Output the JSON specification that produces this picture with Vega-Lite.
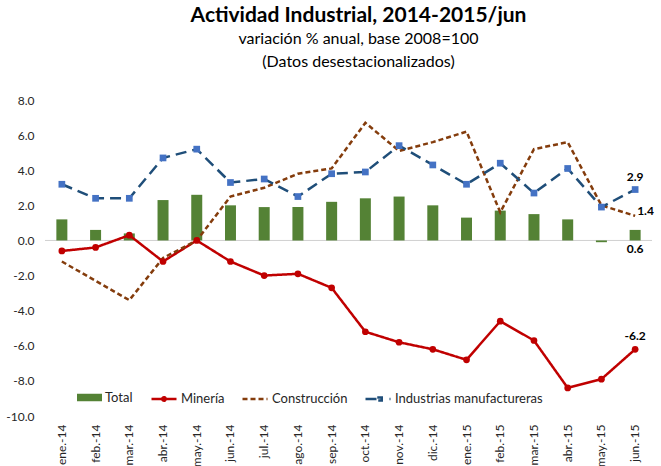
{
  "$schema": "https://vega.github.io/schema/vega-lite/v6.json",
  "autosize": "none",
  "width": 607,
  "height": 316,
  "padding": {"left": 45, "top": 100, "right": 9, "bottom": 50},
  "background": "white",
  "title": {
    "text": "Actividad Industrial, 2014-2015/jun",
    "subtitle": ["variación % anual, base 2008=100", "(Datos desestacionalizados)"],
    "fontSize": 21,
    "fontWeight": "bold",
    "font": "Lato",
    "color": "#000000",
    "subtitleFont": "Lato",
    "subtitleFontSize": 16,
    "subtitleColor": "#000000",
    "subtitleLineHeight": 23,
    "subtitlePadding": 5,
    "anchor": "middle",
    "dx": 10,
    "offset": 24
  },
  "data": {
    "values": [
      {"mes": "ene.-14", "Total": 1.2, "Minería": -0.6, "Construcción": -1.2, "Industrias manufactureras": 3.2},
      {"mes": "feb.-14", "Total": 0.6, "Minería": -0.4, "Construcción": -2.3, "Industrias manufactureras": 2.4},
      {"mes": "mar.-14", "Total": 0.4, "Minería": 0.3, "Construcción": -3.4, "Industrias manufactureras": 2.4},
      {"mes": "abr.-14", "Total": 2.3, "Minería": -1.2, "Construcción": -1.0, "Industrias manufactureras": 4.7},
      {"mes": "may.-14", "Total": 2.6, "Minería": 0.0, "Construcción": 0.0, "Industrias manufactureras": 5.2},
      {"mes": "jun.-14", "Total": 2.0, "Minería": -1.2, "Construcción": 2.5, "Industrias manufactureras": 3.3},
      {"mes": "jul.-14", "Total": 1.9, "Minería": -2.0, "Construcción": 3.0, "Industrias manufactureras": 3.5},
      {"mes": "ago.-14", "Total": 1.9, "Minería": -1.9, "Construcción": 3.8, "Industrias manufactureras": 2.5},
      {"mes": "sep.-14", "Total": 2.2, "Minería": -2.7, "Construcción": 4.1, "Industrias manufactureras": 3.8},
      {"mes": "oct.-14", "Total": 2.4, "Minería": -5.2, "Construcción": 6.7, "Industrias manufactureras": 3.9},
      {"mes": "nov.-14", "Total": 2.5, "Minería": -5.8, "Construcción": 5.1, "Industrias manufactureras": 5.4},
      {"mes": "dic.-14", "Total": 2.0, "Minería": -6.2, "Construcción": 5.6, "Industrias manufactureras": 4.3},
      {"mes": "ene.-15", "Total": 1.3, "Minería": -6.8, "Construcción": 6.2, "Industrias manufactureras": 3.2},
      {"mes": "feb.-15", "Total": 1.7, "Minería": -4.6, "Construcción": 1.6, "Industrias manufactureras": 4.4},
      {"mes": "mar.-15", "Total": 1.5, "Minería": -5.7, "Construcción": 5.2, "Industrias manufactureras": 2.7},
      {"mes": "abr.-15", "Total": 1.2, "Minería": -8.4, "Construcción": 5.6, "Industrias manufactureras": 4.1},
      {"mes": "may.-15", "Total": -0.1, "Minería": -7.9, "Construcción": 2.0, "Industrias manufactureras": 1.9},
      {"mes": "jun.-15", "Total": 0.6, "Minería": -6.2, "Construcción": 1.4, "Industrias manufactureras": 2.9}
    ]
  },
  "encoding": {
    "x": {
      "field": "mes",
      "type": "nominal",
      "sort": null,
      "scale": {
        "domain": ["ene.-14", "feb.-14", "mar.-14", "abr.-14", "may.-14", "jun.-14", "jul.-14", "ago.-14", "sep.-14", "oct.-14", "nov.-14", "dic.-14", "ene.-15", "feb.-15", "mar.-15", "abr.-15", "may.-15", "jun.-15"],
        "paddingInner": 0,
        "paddingOuter": 0
      },
      "axis": {
        "title": null,
        "domain": false,
        "ticks": false,
        "labelAngle": -90,
        "labelPadding": 8,
        "labelFontSize": 12,
        "labelColor": "#262626",
        "labelFont": "Lato"
      }
    }
  },
  "layer": [
    {
      "data": {"values": [{}]},
      "mark": {"type": "rule", "color": "#D0D0D0", "strokeWidth": 1},
      "encoding": {"x": null, "y": {"datum": 0, "type": "quantitative"}}
    },
    {
      "transform": [{"fold": ["Total"], "as": ["serie", "valor"]}],
      "mark": {"type": "bar", "size": 11},
      "encoding": {
        "y": {
          "field": "valor",
          "type": "quantitative",
          "scale": {"domain": [-10, 8], "nice": false, "zero": false},
          "axis": {
            "title": null,
            "values": [-10, -8, -6, -4, -2, 0, 2, 4, 6, 8],
            "format": ".1f",
            "grid": false,
            "domain": false,
            "ticks": false,
            "labelOverlap": false,
            "labelFlush": false,
            "labelBound": false,
            "labelPadding": 11,
            "labelFontSize": 12,
            "labelColor": "#262626",
            "labelFont": "Lato"
          }
        },
        "fill": {
          "field": "serie",
          "type": "nominal",
          "scale": {"domain": ["Total"], "range": ["#548235"]},
          "legend": {
            "title": null,
            "orient": "none",
            "legendX": 32,
            "legendY": 285,
            "symbolType": "M-1,-0.3H1V0.3H-1Z",
            "symbolSize": 625,
            "symbolStrokeWidth": 0,
            "labelFontSize": 13,
            "labelFont": "Lato",
            "labelColor": "#262626",
            "labelOffset": 3
          }
        }
      }
    },
    {
      "transform": [{"fold": ["Minería", "Construcción", "Industrias manufactureras"], "as": ["serie", "valor"]}],
      "mark": {"type": "line", "strokeWidth": 2.5},
      "encoding": {
        "y": {"field": "valor", "type": "quantitative"},
        "stroke": {
          "field": "serie",
          "type": "nominal",
          "scale": {"domain": ["Minería", "Construcción", "Industrias manufactureras"], "range": ["#C00000", "#843C0C", "#1F4E79"]},
          "legend": {
            "title": null,
            "orient": "none",
            "direction": "horizontal",
            "legendX": 105,
            "legendY": 285,
            "symbolType": "stroke",
            "symbolSize": 625,
            "symbolStrokeWidth": 2.5,
            "labelFontSize": 13,
            "labelFont": "Lato",
            "labelColor": "#262626",
            "labelOffset": 3,
            "columnPadding": 12,
            "encode": {
              "symbols": {
                "update": {
                  "shape": {"signal": "datum.value === 'Minería' ? 'M-1,0H1M-0.14,0A0.14,0.14 0 1,1 0.14,0A0.14,0.14 0 1,1 -0.14,0Z' : datum.value === 'Industrias manufactureras' ? 'M-1,0H0.1M-0.06,-0.12H0.3V0.12H-0.06ZM0.92,0H1' : 'stroke'"},
                  "strokeDash": {"signal": "datum.value === 'Construcción' ? [4, 3] : [1, 0]"}
                }
              }
            }
          }
        },
        "strokeDash": {
          "field": "serie",
          "type": "nominal",
          "scale": {"domain": ["Minería", "Construcción", "Industrias manufactureras"], "range": [[1, 0], [5, 3], [11, 6]]},
          "legend": {
            "title": null,
            "orient": "none",
            "direction": "horizontal",
            "legendX": 105,
            "legendY": 285,
            "symbolType": "stroke",
            "symbolSize": 625,
            "symbolStrokeWidth": 2.5,
            "labelFontSize": 13,
            "labelFont": "Lato",
            "labelColor": "#262626",
            "labelOffset": 3,
            "columnPadding": 12
          }
        }
      }
    },
    {
      "mark": {"type": "point", "shape": "circle", "filled": true, "size": 45, "color": "#C00000", "opacity": 1},
      "encoding": {"y": {"field": "Minería", "type": "quantitative"}}
    },
    {
      "mark": {"type": "point", "shape": "square", "filled": true, "size": 45, "color": "#4472C4", "opacity": 1},
      "encoding": {"y": {"field": "Industrias manufactureras", "type": "quantitative"}}
    },
    {
      "transform": [{"filter": "datum.mes === 'jun.-15'"}],
      "mark": {"type": "text", "fontWeight": "bold", "fontSize": 12, "font": "Lato", "color": "#000000", "dy": -13},
      "encoding": {"y": {"field": "Industrias manufactureras", "type": "quantitative"}, "text": {"field": "Industrias manufactureras", "type": "quantitative", "format": ".1f"}}
    },
    {
      "transform": [{"filter": "datum.mes === 'jun.-15'"}],
      "mark": {"type": "text", "fontWeight": "bold", "fontSize": 12, "font": "Lato", "color": "#000000", "align": "left", "dx": 2, "dy": -5},
      "encoding": {"y": {"field": "Construcción", "type": "quantitative"}, "text": {"field": "Construcción", "type": "quantitative", "format": ".1f"}}
    },
    {
      "transform": [{"filter": "datum.mes === 'jun.-15'"}],
      "mark": {"type": "text", "fontWeight": "bold", "fontSize": 12, "font": "Lato", "color": "#000000", "dy": 19},
      "encoding": {"y": {"field": "Total", "type": "quantitative"}, "text": {"field": "Total", "type": "quantitative", "format": ".1f"}}
    },
    {
      "transform": [{"filter": "datum.mes === 'jun.-15'"}],
      "mark": {"type": "text", "fontWeight": "bold", "fontSize": 12, "font": "Lato", "color": "#000000", "dy": -13},
      "encoding": {"y": {"field": "Minería", "type": "quantitative"}, "text": {"field": "Minería", "type": "quantitative", "format": ".1f"}}
    }
  ],
  "config": {
    "view": {"stroke": null},
    "font": "Lato",
    "axisY": {"labelOverlap": false, "labelFlush": false, "labelBound": false, "tickCount": 10},
    "axis": {"labelOverlap": false},
    "locale": {"number": {"decimal": ".", "thousands": ",", "grouping": [3], "currency": ["$", ""], "minus": "-"}}
  }
}
